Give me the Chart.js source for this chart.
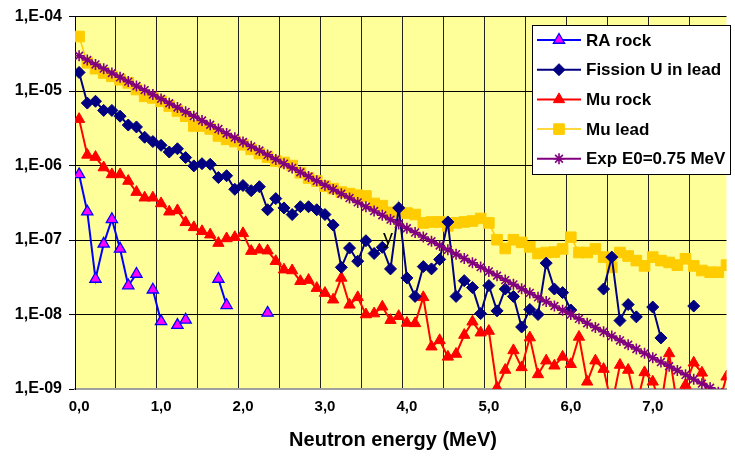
<!DOCTYPE html>
<html>
<head>
<meta charset="utf-8">
<title>Neutron energy spectra</title>
<script src="https://cdn.jsdelivr.net/npm/chart.js@4.4.0/dist/chart.umd.min.js"></script>
<style>
  html, body { margin: 0; padding: 0; background: #fff; }
  #wrap { position: relative; width: 735px; height: 457px; }
</style>
</head>
<body>
<div id="wrap"><canvas id="spectrumChart"></canvas></div>
<script>
// Neutron energy (MeV), one point every 0.1 MeV
const energy = [
  0.0, 0.1, 0.2, 0.3, 0.4, 0.5, 0.6, 0.7, 0.8, 0.9,
  1.0, 1.1, 1.2, 1.3, 1.4, 1.5, 1.6, 1.7, 1.8, 1.9,
  2.0, 2.1, 2.2, 2.3, 2.4, 2.5, 2.6, 2.7, 2.8, 2.9,
  3.0, 3.1, 3.2, 3.3, 3.4, 3.5, 3.6, 3.7, 3.8, 3.9,
  4.0, 4.1, 4.2, 4.3, 4.4, 4.5, 4.6, 4.7, 4.8, 4.9,
  5.0, 5.1, 5.2, 5.3, 5.4, 5.5, 5.6, 5.7, 5.8, 5.9,
  6.0, 6.1, 6.2, 6.3, 6.4, 6.5, 6.6, 6.7, 6.8, 6.9,
  7.0, 7.1, 7.2, 7.3, 7.4, 7.5, 7.6, 7.7, 7.8, 7.9,
];

// tick labels
const energyLabels = ["0,0", "1,0", "2,0", "3,0", "4,0", "5,0", "6,0", "7,0"];
const decadeTicks = [1e-9, 1e-8, 1e-7, 1e-6, 1e-5, 1e-4];

const raRock = [
  7.6e-7, 2.4e-7, 3.0e-8, 8.9e-8, 1.9e-7, 7.6e-8, 2.45e-8, 3.5e-8, null, 2.15e-8,
  8.1e-9, null, 7.2e-9, 8.5e-9, null, null, null, 3.0e-8, 1.33e-8, null,
  null, null, null, 1.05e-8, null, null, null, null, null, null,
  null, null, null, null, null, null, null, null, null, null,
  null, null, null, null, null, null, null, null, null, null,
  null, null, null, null, null, null, null, null, null, null,
  null, null, null, null, null, null, null, null, null, null,
  null, null, null, null, null, null, null, null, null, null,
];

const fissionULead = [
  1.78e-5, 6.9e-6, 7.3e-6, 5.5e-6, 5.5e-6, 4.6e-6, 3.5e-6, 3.3e-6, 2.4e-6, 2.1e-6,
  1.87e-6, 1.52e-6, 1.68e-6, 1.28e-6, 9.9e-7, 1.06e-6, 1.04e-6, 6.9e-7, 7.3e-7, 4.8e-7,
  5.4e-7, 4.6e-7, 5.2e-7, 2.55e-7, 3.6e-7, 2.7e-7, 2.2e-7, 2.8e-7, 2.8e-7, 2.55e-7,
  2.2e-7, 1.59e-7, 4.3e-8, 7.8e-8, 5.2e-8, 9.8e-8, 6.6e-8, 8.0e-8, 4.1e-8, 2.7e-7,
  3.1e-8, 1.75e-8, 4.4e-8, 4.1e-8, 5.5e-8, 1.75e-7, 1.75e-8, 2.85e-8, 2.3e-8, 1.03e-8,
  2.45e-8, 1.12e-8, 2.2e-8, 1.75e-8, 6.8e-9, 1.17e-8, 1.0e-8, 4.9e-8, 2.2e-8, 1.97e-8,
  1.15e-8, null, null, null, 2.2e-8, 5.9e-8, 8.3e-9, 1.36e-8, 9.3e-9, null,
  1.26e-8, 4.85e-9, null, null, null, 1.3e-8, null, null, null, null,
];

const muRock = [
  4.2e-6, 1.39e-6, 1.3e-6, 9.4e-7, 7.6e-7, 7.6e-7, 6.2e-7, 4.4e-7, 3.7e-7, 3.7e-7,
  3.1e-7, 2.4e-7, 2.5e-7, 1.73e-7, 1.48e-7, 1.31e-7, 1.18e-7, 9.1e-8, 1.05e-7, 1.09e-7,
  1.23e-7, 7.1e-8, 7.4e-8, 7.2e-8, 5.2e-8, 4.0e-8, 3.9e-8, 2.8e-8, 2.9e-8, 2.26e-8,
  1.94e-8, 1.58e-8, 3.1e-8, 1.35e-8, 1.7e-8, 1.0e-8, 1.03e-8, 1.27e-8, 8.4e-9, 9.5e-9,
  7.7e-9, 7.6e-9, 1.7e-8, 3.7e-9, 4.5e-9, 2.7e-9, 2.95e-9, 5.3e-9, 8.0e-9, 5.7e-9,
  6.0e-9, 1.04e-9, 1.8e-9, 3.3e-9, 1.95e-9, 4.9e-9, 1.57e-9, 2.4e-9, 2.05e-9, 2.7e-9,
  2.15e-9, 5.0e-9, 1.25e-9, 2.4e-9, 1.85e-9, 6e-10, 2.1e-9, 1.8e-9, 6e-10, 1.67e-9,
  1.25e-9, 6e-10, 3.0e-9, 6e-10, 1.13e-9, 2.25e-9, 1.65e-9, 6e-10, 6e-10, 1.46e-9,
];

const muLead = [
  5.4e-5, 2.4e-5, 2.0e-5, 1.75e-5, 1.58e-5, 1.42e-5, 1.29e-5, 1.05e-5, 8.5e-6, 8.1e-6,
  7.3e-6, 6.3e-6, 5.4e-6, 4.6e-6, 3.4e-6, 3.4e-6, 3.1e-6, 2.5e-6, 2.25e-6, 2.1e-6,
  1.9e-6, 1.65e-6, 1.45e-6, 1.3e-6, 1.15e-6, 1.1e-6, 1.0e-6, 8.0e-7, 6.8e-7, 6.2e-7,
  5.3e-7, 4.9e-7, 4.4e-7, 4.2e-7, 4.0e-7, 3.9e-7, 3.1e-7, 2.9e-7, 2.35e-7, 2.4e-7,
  2.3e-7, 2.2e-7, 1.7e-7, 1.75e-7, 1.75e-7, 1.55e-7, 1.7e-7, 1.75e-7, 1.8e-7, 1.95e-7,
  1.7e-7, 1.01e-7, 7.7e-8, 1.01e-7, 9.3e-8, 8.1e-8, 6.6e-8, 6.8e-8, 6.9e-8, 7.6e-8,
  1.09e-7, 6.8e-8, 6.8e-8, 7.6e-8, 5.9e-8, 4.3e-8, 6.8e-8, 6.1e-8, 5.3e-8, 4.5e-8,
  5.9e-8, 5.3e-8, 5.0e-8, 4.6e-8, 5.6e-8, 4.5e-8, 3.9e-8, 3.7e-8, 3.7e-8, 4.6e-8,
];

const expFit = [
  2.98e-5, 2.61e-5, 2.28e-5, 2.0e-5, 1.75e-5, 1.53e-5, 1.34e-5, 1.17e-5, 1.03e-5, 8.97e-6,
  7.85e-6, 6.87e-6, 6.02e-6, 5.26e-6, 4.61e-6, 4.03e-6, 3.53e-6, 3.09e-6, 2.7e-6, 2.37e-6,
  2.07e-6, 1.81e-6, 1.59e-6, 1.39e-6, 1.21e-6, 1.06e-6, 9.3e-7, 8.14e-7, 7.12e-7, 6.23e-7,
  5.46e-7, 4.78e-7, 4.18e-7, 3.66e-7, 3.2e-7, 2.8e-7, 2.45e-7, 2.15e-7, 1.88e-7, 1.64e-7,
  1.44e-7, 1.26e-7, 1.1e-7, 9.64e-8, 8.44e-8, 7.38e-8, 6.46e-8, 5.66e-8, 4.95e-8, 4.33e-8,
  3.79e-8, 3.32e-8, 2.9e-8, 2.54e-8, 2.22e-8, 1.95e-8, 1.7e-8, 1.49e-8, 1.3e-8, 1.14e-8,
  9.99e-9, 8.75e-9, 7.65e-9, 6.7e-9, 5.86e-9, 5.13e-9, 4.49e-9, 3.93e-9, 3.44e-9, 3.01e-9,
  2.63e-9, 2.3e-9, 2.02e-9, 1.77e-9, 1.55e-9, 1.35e-9, 1.18e-9, 1.04e-9, 9.06e-10, 7.93e-10,
];

const fontFamily = 'Arial, "Liberation Sans", sans-serif';
Chart.defaults.font.family = fontFamily;
Chart.defaults.color = "#000";

function toPoints(values) {
  return values.map((v, i) => ({ x: energy[i], y: v }));
}

function decadeLabel(v) {
  const e = Math.round(Math.log10(v));
  return "1,E-" + String(-e).padStart(2, "0");
}

// yellow plot area
const plotBackground = {
  id: "plotBackground",
  beforeDraw(chart) {
    const { ctx, chartArea } = chart;
    ctx.save();
    ctx.fillStyle = "#FFFF99";
    ctx.fillRect(chartArea.left, chartArea.top, chartArea.right - chartArea.left, chartArea.bottom - chartArea.top);
    ctx.restore();
  },
};

function drawMarker(ctx, ds, x, y) {
  ctx.fillStyle = ds.pointBackgroundColor;
  ctx.strokeStyle = ds.pointBorderColor;
  ctx.lineWidth = ds.pointBorderWidth;
  Chart.helpers.drawPoint(ctx, {
    pointStyle: ds.pointStyle,
    radius: ds.pointRadius,
    rotation: 0,
    borderWidth: ds.pointBorderWidth,
  }, x, y);
}

// boxed legend inside the plot, like the spreadsheet one
const boxLegend = {
  id: "boxLegend",
  afterDraw(chart) {
    const ctx = chart.ctx;
    const left = 532, top = 25, width = 198, height = 149;
    ctx.save();
    ctx.fillStyle = "#fff";
    ctx.fillRect(left, top, width, height);
    ctx.strokeStyle = "#000";
    ctx.lineWidth = 1;
    ctx.strokeRect(left + 0.5, top + 0.5, width, height);
    ctx.font = "bold 17px " + fontFamily;
    ctx.textBaseline = "middle";
    chart.data.datasets.forEach((ds, row) => {
      const y = top + 15 + row * 29.7;
      ctx.strokeStyle = ds.borderColor;
      ctx.lineWidth = ds.borderWidth;
      ctx.beginPath();
      ctx.moveTo(537, y);
      ctx.lineTo(581, y);
      ctx.stroke();
      drawMarker(ctx, ds, 559, y);
      ctx.fillStyle = "#000";
      ctx.fillText(ds.label, 586, y + 1);
    });
    ctx.restore();
  },
};

// axis title and the stray "y" mark
const extraText = {
  id: "extraText",
  afterDraw(chart) {
    const ctx = chart.ctx;
    const xs = chart.scales.x, ys = chart.scales.y;
    ctx.save();
    ctx.fillStyle = "#000";
    ctx.textAlign = "center";
    ctx.textBaseline = "middle";
    ctx.font = "bold 20px " + fontFamily;
    ctx.fillText("Neutron energy (MeV)", 393, 440);
    ctx.font = "20px " + fontFamily;
    ctx.textBaseline = "alphabetic";
    ctx.fillText("y", xs.getPixelForValue(3.77), ys.getPixelForValue(1e-7) + 4);
    ctx.restore();
  },
};

const ctx = document.getElementById("spectrumChart").getContext("2d");
new Chart(ctx, {
  type: "line",
  data: {
    datasets: [
      {
        label: "RA rock",
        data: toPoints(raRock),
        borderColor: "#0000FF",
        borderWidth: 2,
        pointStyle: "triangle",
        pointRadius: 6.5,
        pointBorderWidth: 1.3,
        pointBackgroundColor: "#FF00FF",
        pointBorderColor: "#0000FF",
        order: 4,
      },
      {
        label: "Fission U in lead",
        data: toPoints(fissionULead),
        borderColor: "#000080",
        borderWidth: 2,
        pointStyle: "rectRot",
        pointRadius: 6,
        pointBorderWidth: 1,
        pointBackgroundColor: "#000080",
        pointBorderColor: "#000080",
        order: 2,
      },
      {
        label: "Mu rock",
        data: toPoints(muRock),
        borderColor: "#FF0000",
        borderWidth: 2,
        pointStyle: "triangle",
        pointRadius: 6.5,
        pointBorderWidth: 1,
        pointBackgroundColor: "#FF0000",
        pointBorderColor: "#FF0000",
        order: 3,
      },
      {
        label: "Mu lead",
        data: toPoints(muLead),
        borderColor: "#FFCC00",
        borderWidth: 1.5,
        pointStyle: "rect",
        pointRadius: 7.5,
        pointBorderWidth: 1,
        pointBackgroundColor: "#FFCC00",
        pointBorderColor: "#FFCC00",
        order: 5,
      },
      {
        label: "Exp E0=0.75 MeV",
        data: toPoints(expFit),
        borderColor: "#800080",
        borderWidth: 2,
        pointStyle: "star",
        pointRadius: 5.5,
        pointBorderWidth: 1.6,
        pointBackgroundColor: "#800080",
        pointBorderColor: "#800080",
        order: 1,
      },
    ],
  },
  options: {
    responsive: true,
    maintainAspectRatio: false,
    animation: false,
    devicePixelRatio: 1,
    spanGaps: false,
    elements: { line: { tension: 0 } },
    layout: { padding: { top: 15, right: 0, bottom: 0, left: 0 } },
    plugins: {
      legend: { display: false },
      tooltip: { enabled: false },
    },
    scales: {
      x: {
        type: "linear",
        min: -0.05,
        max: 7.9,
        afterBuildTicks(scale) {
          // grid lines fall between categories, every 0.5 MeV
          const ticks = [];
          for (let i = 0; i < 16; i++) ticks.push({ value: -0.05 + i * 0.5 });
          scale.ticks = ticks;
        },
        afterFit(scale) {
          scale.height = 68;
        },
        ticks: {
          autoSkip: false,
          maxRotation: 0,
          padding: 9,
          labelOffset: 4.15,
          font: { size: 15, weight: "bold" },
          callback: (value, index) => (index % 2 === 0 ? energyLabels[index / 2] : ""),
        },
        grid: {
          color: "#222",
          lineWidth: 1,
          drawTicks: false,
        },
        border: { display: true, color: "#A0A0A0", width: 2 },
      },
      y: {
        type: "logarithmic",
        min: 1e-9,
        max: 1e-4,
        afterBuildTicks(scale) {
          scale.ticks = decadeTicks.map((v) => ({ value: v, major: true }));
        },
        afterFit(scale) {
          scale.width = 75;
        },
        ticks: {
          padding: 7,
          font: { size: 16, weight: "bold" },
          callback: (value) => decadeLabel(value),
        },
        grid: {
          color: (c) => (c.tick && c.tick.value === 1e-9 ? "rgba(0,0,0,0)" : "#000"),
          tickColor: "#000",
          lineWidth: 1,
          tickLength: 6,
        },
        border: { display: true, color: "#000", width: 1 },
      },
    },
  },
  plugins: [plotBackground, boxLegend, extraText],
});
</script>
</body>
</html>
